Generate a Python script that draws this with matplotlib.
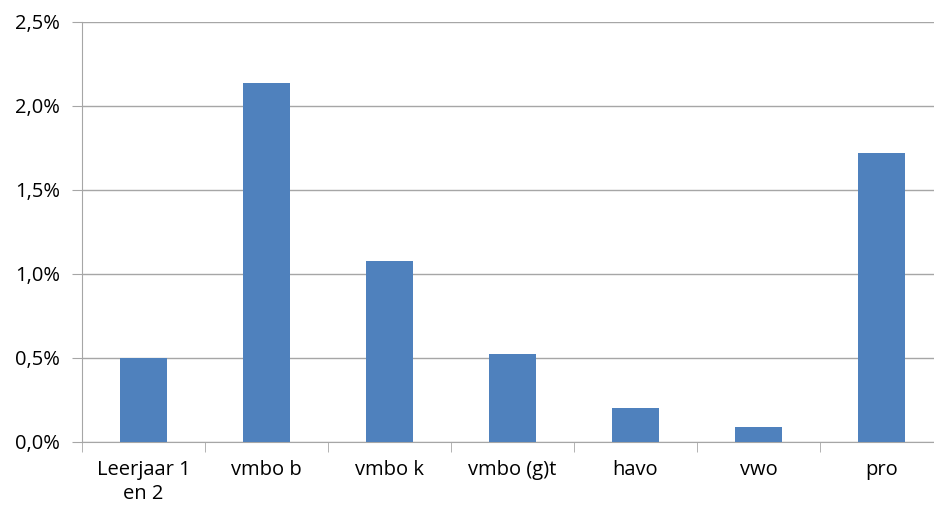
import matplotlib.pyplot as plt
from matplotlib.ticker import FuncFormatter, FixedLocator

categories = ['Leerjaar 1\nen 2', 'vmbo b', 'vmbo k', 'vmbo (g)t', 'havo', 'vwo', 'pro']
values = [0.50, 2.135, 1.08, 0.525, 0.205, 0.09, 1.72]
y_ticks = [0.0, 0.5, 1.0, 1.5, 2.0, 2.5]

W, H = 934, 507
fig = plt.figure(figsize=(W / 100, H / 100), dpi=100)
plt.rcParams['font.family'] = ['Open Sans', 'DejaVu Sans']

# axes runs past the right edge of the picture, as in the reference
left, right, top, bottom = 82, 943, 22, 442
ax = fig.add_axes([left / W, 1 - bottom / H, (right - left) / W, (bottom - top) / H])

x = range(len(categories))
ax.bar(x, values, width=0.39, color='#4f81bd', zorder=3)

ax.set_xlim(-0.5, len(categories) - 0.5)
ax.set_ylim(0, 2.5)
ax.set_yticks(y_ticks)
ax.yaxis.set_major_formatter(FuncFormatter(lambda v, p: f'{v:.1f}%'.replace('.', ',')))
ax.grid(axis='y', color='#a6a6a6', linewidth=1, zorder=0)

ax.set_xticks(list(x))
ax.set_xticklabels(categories, fontsize=14.5, linespacing=1.25)
ax.tick_params(axis='x', length=0, pad=13)
ax.xaxis.set_minor_locator(FixedLocator([i - 0.5 for i in range(len(categories) + 1)]))
ax.tick_params(axis='x', which='minor', length=7, color='#a6a6a6', direction='out')
ax.tick_params(axis='y', length=7, color='#a6a6a6', labelsize=14.5, pad=9)

for s in ['top', 'right']:
    ax.spines[s].set_visible(False)
ax.spines['left'].set_color('#a6a6a6')
ax.spines['bottom'].set_color('#a6a6a6')

fig.savefig('out.png', dpi=100)
